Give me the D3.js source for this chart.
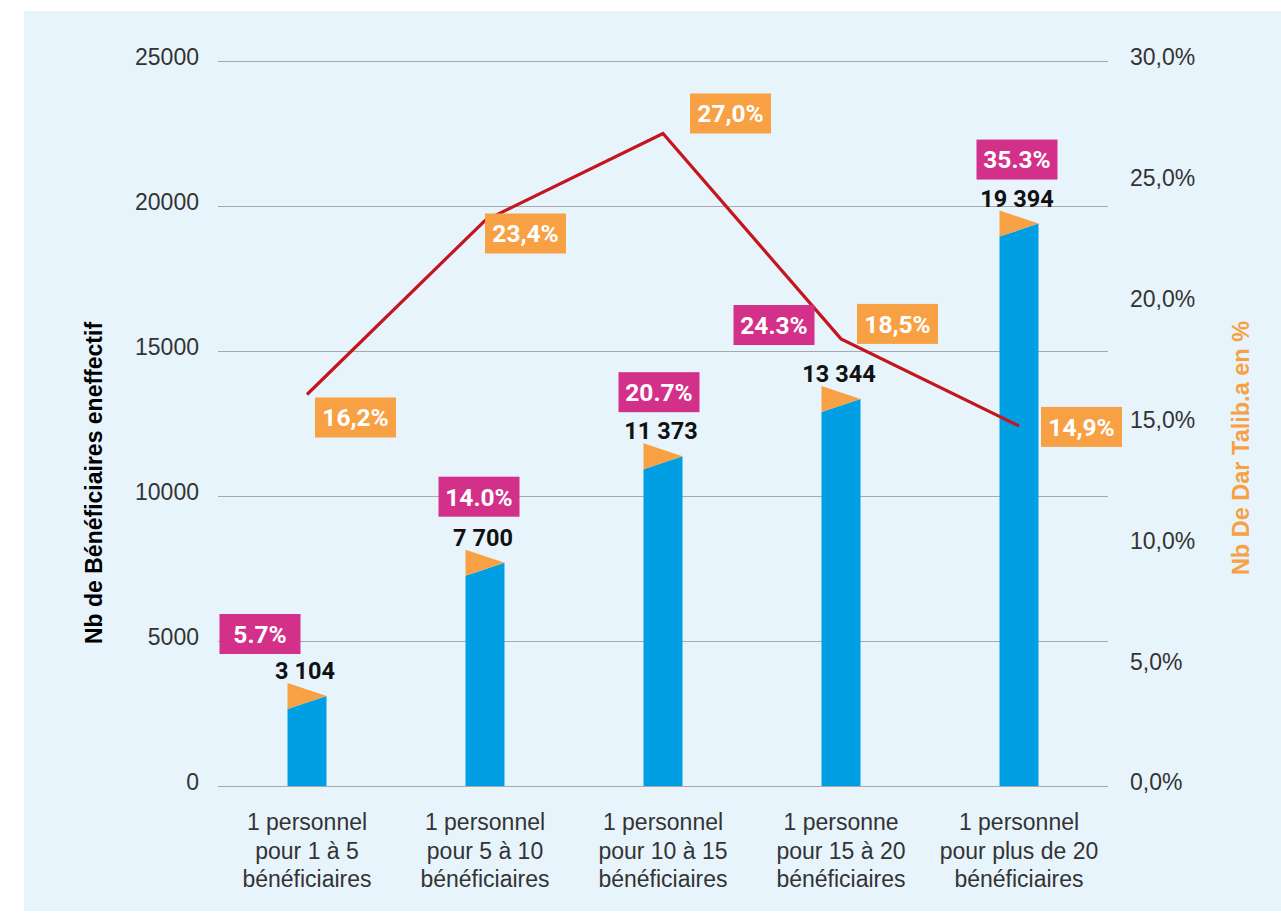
<!DOCTYPE html>
<html lang="fr">
<head>
<meta charset="utf-8">
<title>Bénéficiaires et Dar Talib.a par taux d'encadrement</title>
<script src="https://cdn.jsdelivr.net/npm/d3@7/dist/d3.min.js"></script>
<style>
  html, body { margin: 0; padding: 0; background: #ffffff; }
  svg { display: block; }
</style>
</head>
<body>
<svg id="chart" width="1281" height="914"></svg>
<script>
// Ratio categories (three-line x labels)
const categories = [
  ["1 personnel", "pour 1 à 5", "bénéficiaires"],
  ["1 personnel", "pour 5 à 10", "bénéficiaires"],
  ["1 personnel", "pour 10 à 15", "bénéficiaires"],
  ["1 personne", "pour 15 à 20", "bénéficiaires"],
  ["1 personnel", "pour plus de 20", "bénéficiaires"]
];
// Number of beneficiaries (bars, left axis)
const beneficiaries = [3104, 7700, 11373, 13344, 19394];
// Share of beneficiaries, as printed
const beneficiaryShare = ["5.7%", "14.0%", "20.7%", "24.3%", "35.3%"];
// Share of Dar Talib.a in % (line, right axis)
const darTalibaPct = [16.2, 23.4, 27.0, 18.5, 14.9];
// Axis ticks
const leftTicks = [0, 5000, 10000, 15000, 20000, 25000];
const rightTicks = [0, 5, 10, 15, 20, 25, 30];

// Label placement tweaks (pixel offsets from the mark they annotate)
const shareLabelOffset = [[-47, -82], [-6, -86], [-4, -84], [-67, -94], [-2, -84]];
const pctLabelOffset = [[8, 3], [0, -7], [27, -40], [16, -35], [22, -19]];

const colors = {
  panel: "#e8f4fc",
  bar: "#009fe3",
  flag: "#f7a144",
  line: "#c4161c",
  pink: "#d33189",
  grid: "#a7a9ac",
  text: "#333333"
};

const tickFont = "'Liberation Sans', Arial, Helvetica, sans-serif";
const boldFont = "Roboto, 'Liberation Sans', sans-serif";

const svg = d3.select("#chart");
const plotLeft = 218, plotRight = 1108, plotTop = 61, plotBottom = 786;

svg.append("rect")
  .attr("x", 24).attr("y", 11)
  .attr("width", 1281 - 24).attr("height", 900)
  .attr("fill", colors.panel);

const x = d3.scaleBand().domain(d3.range(categories.length)).range([plotLeft, plotRight]).padding(0);
const yL = d3.scaleLinear().domain([0, 25000]).range([plotBottom, plotTop]);
const yR = d3.scaleLinear().domain([0, 30]).range([plotBottom, plotTop]);
const cx = i => x(i) + x.bandwidth() / 2;
const barW = 39, flagH = 13;

// Left axis with gridlines
const gL = svg.append("g")
  .attr("transform", `translate(${plotLeft},0)`)
  .call(d3.axisLeft(yL).tickValues(leftTicks).tickSize(-(plotRight - plotLeft)).tickPadding(19).tickFormat(d3.format("d")));
gL.select(".domain").remove();
gL.selectAll(".tick line").attr("stroke", colors.grid).attr("stroke-width", 1.2);
gL.selectAll(".tick text")
  .attr("fill", colors.text)
  .attr("font-family", tickFont)
  .attr("font-size", 23)
  .attr("dy", "0.17em");

// Right axis (labels only)
const fmtPct = d => d3.format(".1f")(d).replace(".", ",") + "%";
const gR = svg.append("g")
  .attr("transform", `translate(${plotRight},0)`)
  .call(d3.axisRight(yR).tickValues(rightTicks).tickSize(0).tickPadding(22).tickFormat(fmtPct));
gR.select(".domain").remove();
gR.selectAll(".tick text")
  .attr("fill", colors.text)
  .attr("font-family", tickFont)
  .attr("font-size", 23)
  .attr("dy", "0.17em");

// Bars with slanted top and orange flag
const bars = svg.append("g");
beneficiaries.forEach((v, i) => {
  const x0 = cx(i) - barW / 2, x1 = cx(i) + barW / 2, yv = yL(v);
  bars.append("path")
    .attr("d", `M${x0},${yv + flagH}L${x1},${yv}L${x1},${yL(0)}L${x0},${yL(0)}Z`)
    .attr("fill", colors.bar);
  bars.append("path")
    .attr("d", `M${x0},${yv - flagH}L${x1},${yv}L${x0},${yv + flagH}Z`)
    .attr("fill", colors.flag);
});

// Bar value labels
const fmtNum = v => d3.format(",")(v).replace(/,/g, " ");
svg.append("g").selectAll("text")
  .data(beneficiaries)
  .join("text")
  .attr("x", (d, i) => cx(i) - 2)
  .attr("y", d => yL(d) - 17)
  .attr("text-anchor", "middle")
  .attr("font-family", boldFont)
  .attr("font-weight", "bold")
  .attr("font-size", 23.5)
  .attr("fill", "#111111")
  .text(d => fmtNum(d));

// Line
svg.append("path")
  .datum(darTalibaPct)
  .attr("d", d3.line().x((d, i) => cx(i)).y(d => yR(d)))
  .attr("fill", "none")
  .attr("stroke", colors.line)
  .attr("stroke-width", 3.2)
  .attr("stroke-linejoin", "miter");

const boxW = 81, boxH = 40;
function tag(g, bx, by, fill, label) {
  g.append("rect").attr("x", bx).attr("y", by).attr("width", boxW).attr("height", boxH).attr("fill", fill);
  g.append("text")
    .attr("x", bx + boxW / 2).attr("y", by + boxH / 2 + 8.8)
    .attr("text-anchor", "middle")
    .attr("font-family", boldFont)
    .attr("font-weight", "bold")
    .attr("font-size", 24.5)
    .attr("fill", "#ffffff")
    .text(label);
}

// Share tags (pink) above the bars
const pinkG = svg.append("g");
beneficiaries.forEach((v, i) => {
  const [dx, dy] = shareLabelOffset[i];
  tag(pinkG, cx(i) + dx - boxW / 2, yL(v) + dy, colors.pink, beneficiaryShare[i]);
});

// Percentage tags (orange) next to the line points
const orangeG = svg.append("g");
darTalibaPct.forEach((p, i) => {
  const [dx, dy] = pctLabelOffset[i];
  tag(orangeG, cx(i) + dx, yR(p) + dy, colors.flag, fmtPct(p));
});

// X labels
const xl = svg.append("g");
categories.forEach((lines, i) => {
  const t = xl.append("text")
    .attr("text-anchor", "middle")
    .attr("font-family", tickFont)
    .attr("font-size", 23)
    .attr("fill", colors.text);
  lines.forEach((ln, k) => {
    t.append("tspan").attr("x", cx(i)).attr("y", 830 + k * 28.5).text(ln);
  });
});

// Axis titles
svg.append("text")
  .attr("transform", `translate(94,483) rotate(-90)`)
  .attr("text-anchor", "middle")
  .attr("dominant-baseline", "central")
  .attr("font-family", "'Liberation Sans', Arial, sans-serif")
  .attr("font-weight", "bold")
  .attr("font-size", 23)
  .attr("fill", "#000000")
  .text("Nb de Bénéficiaires eneffectif");

svg.append("text")
  .attr("transform", `translate(1241,448) rotate(-90)`)
  .attr("text-anchor", "middle")
  .attr("dominant-baseline", "central")
  .attr("font-family", "'Liberation Sans', Arial, sans-serif")
  .attr("font-weight", "bold")
  .attr("font-size", 23.5)
  .attr("fill", colors.flag)
  .text("Nb De Dar Talib.a en %");
</script>
</body>
</html>
